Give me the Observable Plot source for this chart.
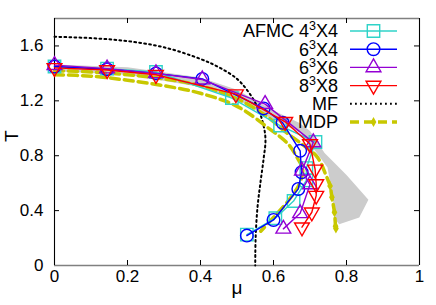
<!DOCTYPE html>
<html>
<head>
<meta charset="utf-8">
<script src="https://cdn.jsdelivr.net/npm/d3@7"></script>
<script src="https://cdn.jsdelivr.net/npm/@observablehq/plot@0.6"></script>
<style>
  html, body { margin: 0; padding: 0; background: #fff; }
  svg { display: block; }
</style>
</head>
<body>
<script>
// ---- data (mu, T) ----
const xTicks = [0, 0.2, 0.4, 0.6, 0.8, 1];
const yTicks = [0, 0.4, 0.8, 1.2, 1.6];

const afmc4 = [[0,1.45],[0.144,1.435],[0.278,1.41],[0.486,1.22],[0.618,1.02],[0.715,0.90],[0.69,0.71],[0.69,0.62],[0.655,0.47],[0.605,0.345],[0.527,0.225]];
const l6x4  = [[0,1.45],[0.144,1.43],[0.278,1.40],[0.405,1.36],[0.573,1.145],[0.625,1.04],[0.673,0.836],[0.677,0.68],[0.668,0.558],[0.60,0.332],[0.527,0.218]];
const l6x6  = [[0,1.46],[0.144,1.435],[0.278,1.40],[0.405,1.355],[0.577,1.176],[0.709,0.897],[0.678,0.69],[0.70,0.59],[0.673,0.38],[0.627,0.267]];
const l8x8  = [[0,1.44],[0.144,1.425],[0.278,1.39],[0.497,1.249],[0.632,1.047],[0.70,0.885],[0.714,0.70],[0.717,0.594],[0.717,0.509],[0.705,0.388],[0.678,0.279]];
const mf    = [[0,1.667],[0.1,1.657],[0.2,1.635],[0.3,1.59],[0.4,1.505],[0.45,1.445],[0.5,1.36],[0.53,1.27],[0.555,1.16],[0.571,1.04],[0.578,0.92],[0.573,0.78],[0.564,0.6],[0.556,0.42],[0.551,0.2],[0.55,0]];
const mdpA  = [[0,1.42],[0.1,1.41],[0.2,1.39],[0.3,1.36],[0.4,1.31],[0.5,1.215],[0.58,1.09],[0.63,0.98],[0.68,0.88],[0.72,0.79],[0.745,0.65],[0.755,0.58],[0.76,0.497],[0.767,0.388],[0.77,0.286],[0.771,0.27]];
const mdpAPts = [[0.755,0.58],[0.76,0.497],[0.767,0.388],[0.77,0.286],[0.771,0.27]];
const mdpB  = [[0,1.39],[0.1,1.38],[0.2,1.35],[0.3,1.31],[0.4,1.255],[0.5,1.16],[0.587,1.0],[0.64,0.885],[0.664,0.79],[0.68,0.70],[0.672,0.60],[0.64,0.47],[0.60,0.35],[0.565,0.25]];
const band  = [[0,1.465],[0.2,1.445],[0.4,1.37],[0.5,1.28],[0.6,1.13],[0.67,1.04],[0.70,0.98],[0.74,0.82],[0.80,0.66],[0.86,0.48],[0.835,0.35],[0.78,0.30],[0.768,0.34],[0.762,0.50],[0.748,0.715],[0.714,0.836],[0.673,0.97],[0.6,1.06],[0.5,1.21],[0.4,1.30],[0.2,1.39],[0,1.415]];

const cyan = "#2fd3c8", blue = "#0000ff", purple = "#9400d3", red = "#ff0000", yel = "#c8c800";
const W = 436, H = 305, mL = 54, mR = 17, mT = 18, mB = 40;
const ph = H - mT - mB, pw = W - mL - mR;

const mu = d => d[0], T = d => d[1];
const fmt = d => String(d);

function series(data, color, symbol, r, rotate) {
  return [
    Plot.line(data, {x: mu, y: T, stroke: color, strokeWidth: 1.4}),
    Plot.dot(data, {x: mu, y: T, stroke: color, symbol, r, strokeWidth: 1.4, fill: "none", rotate: rotate || 0})
  ];
}

const svg = Plot.plot({
  width: W, height: H,
  marginLeft: mL, marginRight: mR, marginTop: mT, marginBottom: mB,
  style: {fontFamily: "'Liberation Sans', Arial, sans-serif", fontSize: "17px", background: "#fff", color: "#000"},
  x: {domain: [0, 1]},
  y: {domain: [0, 1.8]},
  marks: [
    Plot.line(band, {x: mu, y: T, fill: "#cccccc", stroke: "none"}),
    // frame
    Plot.ruleY([0], {stroke: "#808080", strokeWidth: 1.3}),
    Plot.ruleY([1.8], {stroke: "#808080", strokeWidth: 1.3}),
    Plot.ruleX([0], {stroke: "#000", strokeWidth: 1.1}),
    Plot.ruleX([1], {stroke: "#000", strokeWidth: 1.1}),
    // inward ticks
    Plot.tickX(xTicks.slice(1, -1), {x: d => d, insetTop: ph - 5, stroke: "#000"}),
    Plot.tickX(xTicks.slice(1, -1), {x: d => d, insetBottom: ph - 5, stroke: "#000"}),
    Plot.tickY(yTicks.slice(1), {y: d => d, insetRight: pw - 5, stroke: "#000"}),
    Plot.tickY(yTicks.slice(1), {y: d => d, insetLeft: pw - 5, stroke: "#000"}),
    Plot.axisX({ticks: xTicks, tickSize: 0, tickPadding: 4, label: null, tickFormat: fmt}),
    Plot.axisY({ticks: yTicks, tickSize: 0, tickPadding: 11, label: null, tickFormat: fmt}),
    Plot.text(["T"], {frameAnchor: "left", dx: -43, rotate: -90, text: d => d, fontSize: 19}),
    Plot.text(["μ"], {frameAnchor: "bottom", dy: 28, text: d => d, fontSize: 19}),
    // MF
    Plot.line(mf, {x: mu, y: T, stroke: "#000", strokeWidth: 2, strokeDasharray: "1.8,3.2", curve: "catmull-rom"}),
    // MDP
    Plot.line(mdpB, {x: mu, y: T, stroke: yel, strokeWidth: 3.5, strokeDasharray: "9,5", curve: "catmull-rom"}),
    Plot.line(mdpA, {x: mu, y: T, stroke: yel, strokeWidth: 3.5, strokeDasharray: "9,5", curve: "catmull-rom"}),
    Plot.dot(mdpAPts, {x: mu, y: T, fill: yel, symbol: "diamond", r: 3}),
    ...series(afmc4, cyan, "square", 7),
    ...series(l6x4, blue, "circle", 6.3),
    ...series(l6x6, purple, "triangle", 5.5),
    ...series(l8x8, red, "triangle", 5.5, 180)
  ]
});

// legend
const g = d3.select(svg).append("g").attr("font-family", "'Liberation Sans', Arial, sans-serif").attr("font-size", 18);
const legend = [
  {pre: "AFMC 4", sup: "3", post: "X4", color: cyan, sym: d3.symbolSquare, r: 7, dash: null},
  {pre: "6", sup: "3", post: "X4", color: blue, sym: d3.symbolCircle, r: 6.3},
  {pre: "6", sup: "3", post: "X6", color: purple, sym: d3.symbolTriangle, r: 5.5},
  {pre: "8", sup: "3", post: "X8", color: red, sym: d3.symbolTriangle, r: 5.5, rot: 180},
  {pre: "MF", color: "#000", dash: "1.8,3.2", w: 2},
  {pre: "MDP", color: yel, dash: "9,5", w: 3.5, diamond: true}
];
legend.forEach((e, i) => {
  const y = 31 + i * 18.2;
  const t = g.append("text").attr("x", 338).attr("y", y).attr("dy", "0.36em").attr("text-anchor", "end");
  t.append("tspan").text(e.pre);
  if (e.sup) {
    t.append("tspan").attr("font-size", 12.5).attr("dy", -7).text(e.sup);
    t.append("tspan").attr("dy", 7).text(e.post);
  }
  g.append("line").attr("x1", 350).attr("x2", 397).attr("y1", y).attr("y2", y)
    .attr("stroke", e.color).attr("stroke-width", e.w || 1.4).attr("stroke-dasharray", e.dash || null);
  if (e.sym) {
    g.append("path").attr("d", d3.symbol(e.sym, Math.PI * e.r * e.r)())
      .attr("transform", `translate(373.5,${y})` + (e.rot ? ` rotate(${e.rot})` : ""))
      .attr("fill", "none").attr("stroke", e.color).attr("stroke-width", 1.4);
  }
  if (e.diamond) {
    g.append("path").attr("d", d3.symbol(d3.symbolDiamond, Math.PI * 9)())
      .attr("transform", `translate(373.5,${y})`).attr("fill", e.color);
  }
});

document.body.appendChild(svg);
</script>
</body>
</html>
